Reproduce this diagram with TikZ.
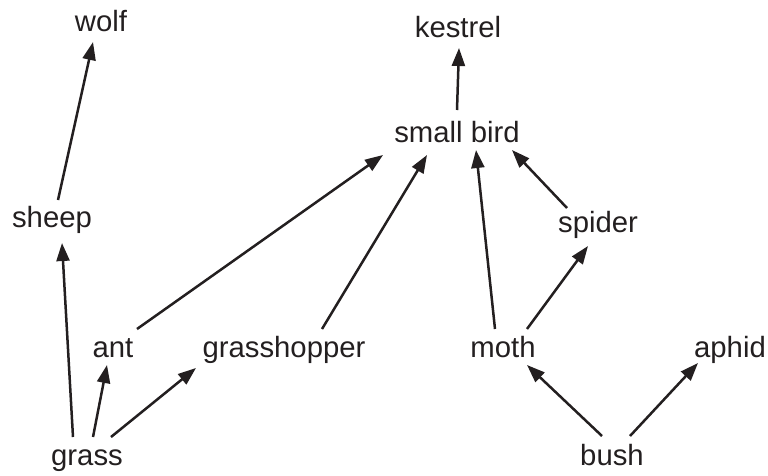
\documentclass[tikz,border=0pt]{standalone}
\usepackage{fontspec}
\setmainfont{Liberation Sans}
\usetikzlibrary{arrows.meta}
\definecolor{ink}{HTML}{231F20}
\begin{document}
\begin{tikzpicture}[x=1pt,y=-1pt,
  lbl/.style={anchor=base,inner sep=0pt,text=ink,font=\fontsize{29.3}{34}\selectfont},
  link/.style={draw=ink,line width=2.5pt,-{Triangle[length=18pt,width=13pt]}}]
\useasboundingbox (0,0) rectangle (768,475);
\node[lbl] (wolf) at (101,31) {wolf};
\node[lbl] (kestrel) at (458,37) {kestrel};
\node[lbl] (sb) at (457,142) {small bird};
\node[lbl] (sheep) at (52,227) {sheep};
\node[lbl] (spider) at (598,232) {spider};
\node[lbl] (ant) at (113,357) {ant};
\node[lbl] (gh) at (284,357) {grasshopper};
\node[lbl] (moth) at (503,357) {moth};
\node[lbl] (aphid) at (730,357) {aphid};
\node[lbl] (grass) at (87,465) {grass};
\node[lbl] (bush) at (612,465) {bush};

\draw[link] ([shift={(6,-27)}]sheep.base) -- ([shift={(-8,11)}]wolf.base);
\draw[link] ([shift={(-14,-28)}]grass.base) -- ([shift={(10,16)}]sheep.base);
\draw[link] ([shift={(6,-28)}]grass.base) -- ([shift={(-6,8)}]ant.base);
\draw[link] ([shift={(24,-28)}]grass.base) -- ([shift={(-88,11)}]gh.base);
\draw[link] ([shift={(24,-28)}]ant.base) -- ([shift={(-74,13)}]sb.base);
\draw[link] ([shift={(38,-28)}]gh.base) -- ([shift={(-30,13)}]sb.base);
\draw[link] ([shift={(-8,-28)}]moth.base) -- ([shift={(19,8)}]sb.base);
\draw[link] ([shift={(24,-28)}]moth.base) -- ([shift={(-10,14)}]spider.base);
\draw[link] ([shift={(-31,-24)}]spider.base) -- ([shift={(55,8)}]sb.base);
\draw[link] ([shift={(0,-32)}]sb.base) -- ([shift={(1,11)}]kestrel.base);
\draw[link] ([shift={(-10,-29)}]bush.base) -- ([shift={(24,8)}]moth.base);
\draw[link] ([shift={(18,-29)}]bush.base) -- ([shift={(-32,6)}]aphid.base);
\end{tikzpicture}
\end{document}
